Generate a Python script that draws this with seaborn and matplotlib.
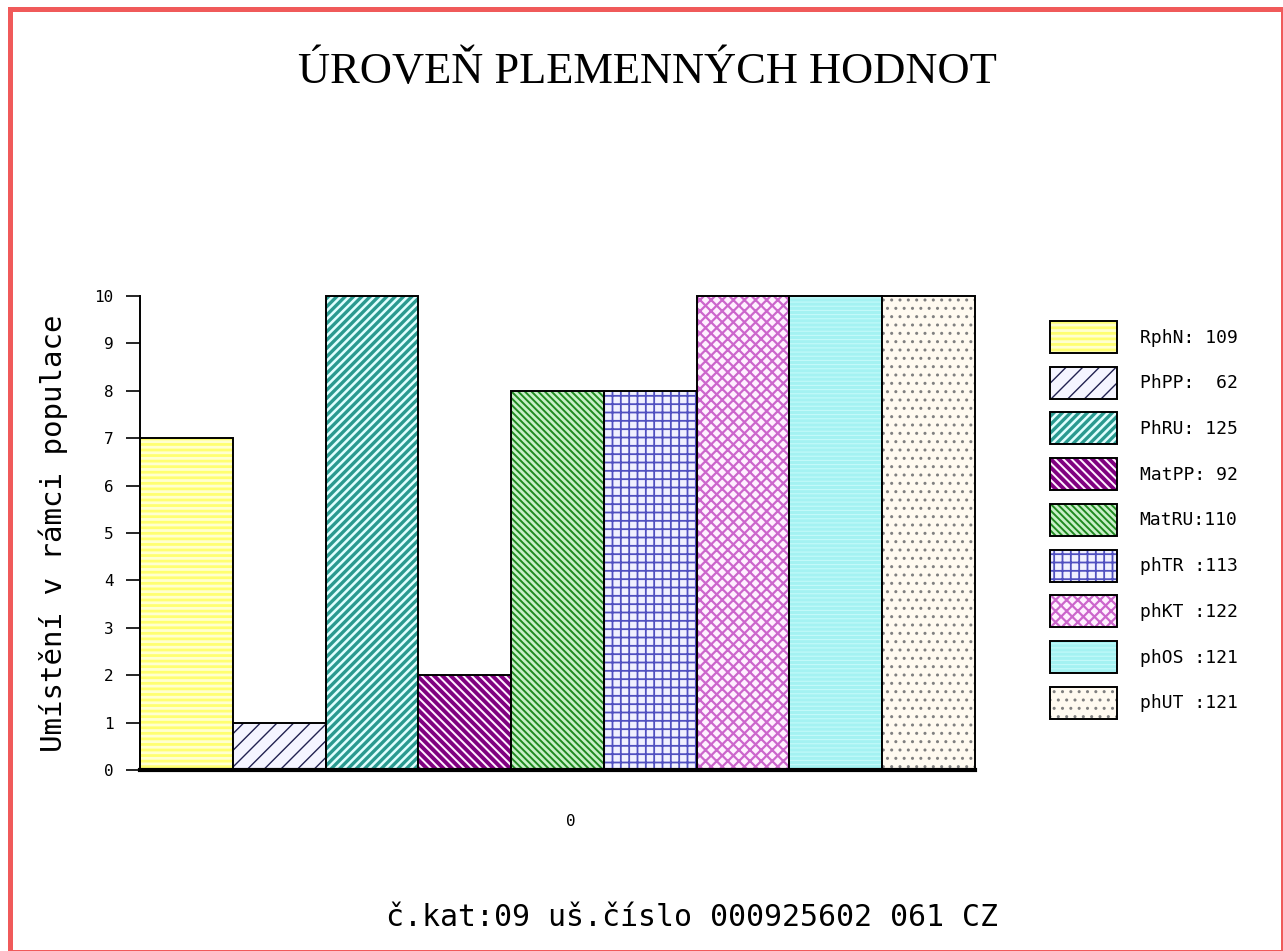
import numpy as np
import pandas as pd
import matplotlib.pyplot as plt
import matplotlib.colors as mcolors
from matplotlib.patches import Rectangle
from matplotlib.transforms import ScaledTranslation
import seaborn as sns

# data
labels = ['RphN: 109', 'PhPP:  62', 'PhRU: 125', 'MatPP: 92', 'MatRU:110',
          'phTR :113', 'phKT :122', 'phOS :121', 'phUT :121']
placement = [7, 1, 10, 2, 8, 8, 10, 10, 10]
group = ['0'] * len(labels)
y_ticks = [0, 1, 2, 3, 4, 5, 6, 7, 8, 9, 10]

title = 'ÚROVEŇ PLEMENNÝCH HODNOT'
y_label = 'Umístění v rámci populace'
footer = 'č.kat:09 uš.číslo 000925602 061 CZ'

# styles per bar: face, hatch, hatch colour, hatch width
faces = ['#ffff70', '#f4f4ff', '#e0ffff', '#fff0ff', '#c8f0c8',
         '#f0f0ff', '#fff0ff', '#a4f2f2', '#fffaf0']
hatches = ['---', '//', '////', '\\\\\\\\', '\\\\\\\\\\', '++', 'xxx', '----', '..']
hatch_cols = ['#ffffd0', '#202050', '#2a9a90', '#800080', '#208a20',
              '#5050c0', '#cc66cc', '#c4fafa', '#808080']
hatch_lws = [2.0, 1.0, 2.4, 2.8, 1.4, 1.3, 1.6, 0.8, 1.0]

df = pd.DataFrame({'grp': group, 'val': placement, 'lab': labels})

sns.set_style('white')
plt.rcParams['font.family'] = ['DejaVu Sans Mono']
plt.rcParams['text.color'] = 'black'
plt.rcParams['xtick.color'] = 'black'
plt.rcParams['ytick.color'] = 'black'
plt.rcParams['axes.labelcolor'] = 'black'


def style_hatch(p, f, h, hc, hl):
    p.set_facecolor(f)
    p.set_hatch(h)
    p._hatch_color = mcolors.to_rgba(hc)
    if hasattr(p, 'set_hatch_linewidth'):
        p.set_hatch_linewidth(hl)
    else:
        p._hatch_linewidth = hl


W, H = 1283, 951
fig = plt.figure(figsize=(W / 100, H / 100), dpi=100)
fig.patch.set_facecolor('white')
ax = fig.add_axes([140 / W, 181 / H, 835 / W, 474 / H])

sns.barplot(data=df, x='grp', y='val', hue='lab', hue_order=labels,
            palette=faces, width=1, gap=0, saturation=1, dodge=True,
            edgecolor='black', linewidth=1.4, legend=False, ax=ax)

for p, f, h, hc, hl in zip(ax.patches, faces, hatches, hatch_cols, hatch_lws):
    style_hatch(p, f, h, hc, hl)
    p.set_clip_on(False)

ax.set_ylim(0, 10)
ax.set_yticks(y_ticks)
ax.set_yticklabels([str(t) for t in y_ticks])
ax.set_xlabel('')
ax.set_ylabel(y_label, fontsize=21)
ax.yaxis.set_label_coords(-0.086, 0.5)
ax.tick_params(axis='y', direction='out', length=10, width=1.2, pad=9,
               labelsize=11.5, left=True, color='black')
ax.tick_params(axis='x', length=0, pad=32, labelsize=11.5)
# the lone group label sits a little right of centre in the original
for lbl in ax.get_xticklabels():
    lbl.set_transform(lbl.get_transform() + ScaledTranslation(0.13, 0, fig.dpi_scale_trans))
sns.despine(ax=ax, top=True, right=True)
ax.spines['left'].set_linewidth(1.4)
ax.spines['left'].set_color('black')
ax.spines['bottom'].set_linewidth(3)
ax.spines['bottom'].set_color('black')

fs = 13
fs_px = fs * 100 / 72
leg = ax.legend(handles=list(ax.patches), labels=labels, loc='upper left',
                bbox_to_anchor=(1050 / W, 1 - 321 / H), bbox_transform=fig.transFigure,
                frameon=False, fontsize=fs, borderpad=0, borderaxespad=0,
                handlelength=67 / fs_px, handleheight=2.35,
                labelspacing=0.76, handletextpad=1.25)
for p, f, h, hc, hl in zip(leg.get_patches(), faces, hatches, hatch_cols, hatch_lws):
    style_hatch(p, f, h, hc, hl)

fig.text(647 / W, 1 - 72 / H, title, ha='center', va='center', fontsize=32,
         family='Liberation Serif')
fig.text(692 / W, 1 - 917 / H, footer, ha='center', va='center', fontsize=21.5)

# red frame round the picture
fig.patches.append(Rectangle((9.5 / W, -0.5 / H), (1283.5 - 9.5) / W, (951.5 - 8.5) / H,
                             transform=fig.transFigure, fill=False,
                             edgecolor='#f05a5a', linewidth=3.6))

fig.savefig('out.png', dpi=100)
